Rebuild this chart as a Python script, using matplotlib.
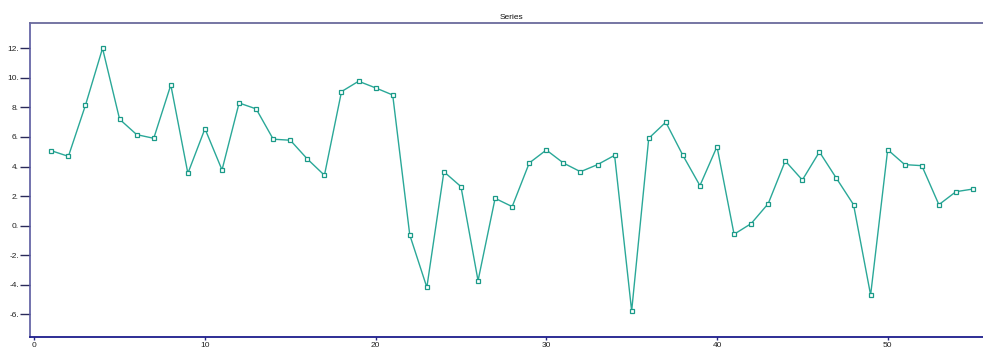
import matplotlib
matplotlib.use("Agg")
import matplotlib.pyplot as plt
from matplotlib.ticker import FixedLocator, FuncFormatter

plt.rcParams['font.family'] = ['Liberation Sans', 'DejaVu Sans']

# Series data
x_index = list(range(1, 56))
values = [
    5.07, 4.69, 8.15, 12.0, 7.2, 6.16, 5.91, 9.52, 3.54, 6.56,
    3.77, 8.3, 7.9, 5.85, 5.78, 4.51, 3.41, 9.07, 9.77, 9.32,
    8.84, -0.63, -4.17, 3.65, 2.64, -3.72, 1.85, 1.29, 4.24, 5.12,
    4.24, 3.65, 4.13, 4.76, -5.77, 5.91, 7.0, 4.76, 2.71, 5.35,
    -0.58, 0.14, 1.49, 4.38, 3.09, 4.99, 3.2, 1.42, -4.69, 5.14,
    4.13, 4.06, 1.42, 2.3, 2.48,
]
x_ticks = [0, 10, 20, 30, 40, 50]
y_ticks = [-6, -4, -2, 0, 2, 4, 6, 8, 10, 12]
title = "Series"

W, H = 983, 349
fig = plt.figure(figsize=(W / 100, H / 100), dpi=100)
ax = fig.add_axes([30 / W, 12 / H, (993 - 30) / W, (337 - 23) / H])

line_color = "#2aa898"
ax.plot(x_index, values, color=line_color, lw=1.0,
        marker="s", markersize=3.4, markerfacecolor="white",
        markeredgecolor="#1a9a88", markeredgewidth=0.9)

ax.set_xlim(-0.25, 56.17)
ax.set_ylim(-7.53, 13.71)

ax.xaxis.set_major_locator(FixedLocator(x_ticks))
ax.yaxis.set_major_locator(FixedLocator(y_ticks))
ax.yaxis.set_major_formatter(FuncFormatter(lambda v, p: f"{v:.0f}."))
ax.xaxis.set_major_formatter(FuncFormatter(lambda v, p: f"{v:.0f}"))

ax.tick_params(axis="y", direction="out", length=7.5, width=1.0,
               color="#2a2a5a", pad=0.5, labelsize=6, labelcolor="#222222")
ax.tick_params(axis="x", direction="out", length=2.5, width=1.0,
               color="#2a2a80", pad=1.0, labelsize=6, labelcolor="#222222")

ax.spines["right"].set_visible(False)
ax.spines["top"].set_color("#6a6a9c")
ax.spines["top"].set_linewidth(1.3)
ax.spines["left"].set_color("#5a5aa0")
ax.spines["left"].set_linewidth(1.2)
ax.spines["bottom"].set_color("#1c1c8c")
ax.spines["bottom"].set_linewidth(1.3)

ax.set_title(title, fontsize=6, color="#111111", pad=3)

fig.savefig("out.png", dpi=100, facecolor="white")
